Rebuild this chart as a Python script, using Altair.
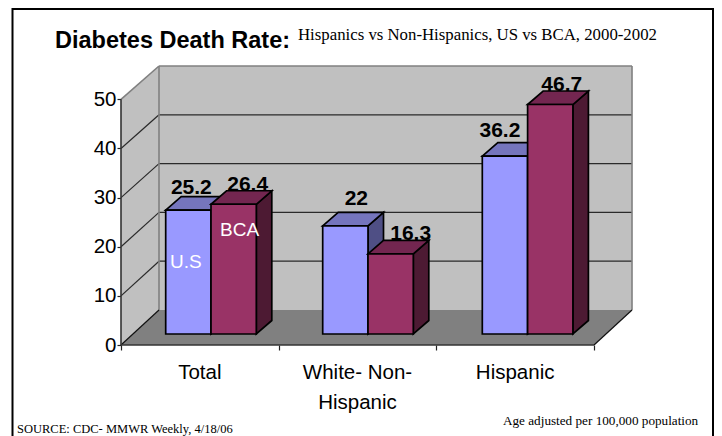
import altair as alt
import pandas as pd

categories = ["Total", "White- Non-\nHispanic", "Hispanic"]
us_values = [25.2, 22, 36.2]
bca_values = [26.4, 16.3, 46.7]
y_ticks = [0, 10, 20, 30, 40, 50]
x_ticks = [0, 1, 2, 3]

# ---- layout (image pixels -> data units) ----
W, H = 706, 428
OX, OY = 8, 8
X0, CAT = 121.0, 157.67
Y0, UNIT = 345.0, 4.914


def dx(px):
    return px / CAT


def dy(px):
    return px / UNIT


XS = alt.Scale(domain=[(OX - X0) / CAT, (OX + W - X0) / CAT], range=[0, W], nice=False, zero=False)
YS = alt.Scale(domain=[(Y0 - OY - H) / UNIT, (Y0 - OY) / UNIT], range=[H, 0], nice=False, zero=False)
XQ = alt.X("x:Q", scale=XS, title=None)
YQ = alt.Y("y:Q", scale=YS, title=None)

WALL_X, WALL_Y = dx(38), dy(35)
INSET_Y = dy(11)
BAR_W = dx(45.3)
DEPTH_X, DEPTH_Y = dx(15.5), dy(13.5)
TOP = 50


def back(v):
    """Height on the back wall of a value: the wall is drawn slightly foreshortened."""
    return WALL_Y + v * 0.993


def bar_left(i, series):
    first = [dx(44.7), dx(201.7), dx(361.3)][i]
    return first + series * BAR_W


def para_v(rows, color, stroke=None, sw=1.7):
    """Parallelogram with vertical sides: rows of (group, x, y, y2)."""
    df = pd.DataFrame(rows, columns=["g", "x", "y", "y2"])
    kw = {"stroke": stroke, "strokeWidth": sw} if stroke else {}
    return alt.Chart(df).mark_area(fill=color, fillOpacity=1, **kw).encode(
        x=XQ, y=YQ, y2="y2:Q", detail="g:N")


def para_h(rows, color, stroke=None, sw=1.7):
    """Parallelogram with horizontal sides: rows of (group, y, x, x2)."""
    df = pd.DataFrame(rows, columns=["g", "y", "x", "x2"])
    kw = {"stroke": stroke, "strokeWidth": sw} if stroke else {}
    return alt.Chart(df).mark_area(orient="horizontal", fill=color, fillOpacity=1, **kw).encode(
        y=YQ, x=XQ, x2="x2:Q", detail="g:N")


def rules(rows, color, sw=1.2):
    df = pd.DataFrame(rows, columns=["x", "x2", "y", "y2"])
    return alt.Chart(df).mark_rule(color=color, strokeWidth=sw).encode(x=XQ, x2="x2:Q", y=YQ, y2="y2:Q")


# ---- real axes ----
axes = alt.Chart(pd.DataFrame({"x": x_ticks, "y": [0] * 4})).mark_point(opacity=0).encode(
    x=alt.X("x:Q", scale=XS, title=None, axis=alt.Axis(
        values=x_ticks, labels=False, domain=False, grid=False, tickColor="#222", tickSize=5,
        tickWidth=1.2, offset=-(OY + H - Y0))),
    y=alt.Y("y:Q", scale=YS, title=None, axis=alt.Axis(
        values=y_ticks, domain=False, grid=False, tickColor="#222", tickSize=4, tickWidth=1.2,
        labelFont="Liberation Sans", labelFontSize=20.5, labelColor="black", labelPadding=1,
        offset=-(X0 - OX))),
)

# ---- walls and floor ----
walls = [
    para_v([("w", 0, TOP, 0), ("w", WALL_X, back(TOP), back(0))], "#c0c0c0"),
    para_v([("b", WALL_X, back(TOP), back(0)), ("b", 3 + WALL_X, back(TOP), back(0))], "#c0c0c0"),
    para_h([("f", 0, 0, 3), ("f", back(0), WALL_X, 3 + WALL_X)], "#808080"),
]
grid_levels = y_ticks[1:-1]
lines = [
    rules([(WALL_X, 3 + WALL_X, back(v), back(v)) for v in grid_levels], "#2a2a2a"),
    rules([(0, WALL_X, v, back(v)) for v in grid_levels], "#2a2a2a"),
    rules([(WALL_X, 3 + WALL_X, back(TOP), back(TOP)),
           (WALL_X, WALL_X, back(0), back(TOP)),
           (3 + WALL_X, 3 + WALL_X, back(0), back(TOP)),
           (0, WALL_X, TOP, back(TOP))], "#808080", 1.6),
    rules([(0, WALL_X, 0, back(0)), (3, 3 + WALL_X, 0, back(0))], "#111", 1.2),
    rules([(0, 3, 0, 0), (0, 0, 0, TOP)], "#333", 1.6),
]


# ---- 3D bars ----
def bars(values, series, front, side, top):
    fr, si, to = [], [], []
    for i, v in enumerate(values):
        l = bar_left(i, series)
        r = l + BAR_W
        y0 = INSET_Y
        y1 = INSET_Y + v
        fr.append((i, l, y1, y0))
        fr.append((i, r, y1, y0))
        si.append((i, r, y1, y0))
        si.append((i, r + DEPTH_X, y1 + DEPTH_Y, y0 + DEPTH_Y))
        to.append((i, y1, l, r))
        to.append((i, y1 + DEPTH_Y, l + DEPTH_X, r + DEPTH_X))
    return [
        para_v(si, side, "black"),
        para_h(to, top, "black"),
        para_v(fr, front, "black"),
    ]


bar_layers = bars(us_values, 0, "#9999ff", "#4f4f85", "#7575bd") + \
    bars(bca_values, 1, "#993366", "#4d1a33", "#732650")


# ---- value labels ----
label_shift_x = [3, 14, 11, 20, -5, 11.5]
label_rise = [16, 13.5, 20.5, 13.5, 19.5, 13.5]
lab_rows = []
k = 0
for i in range(3):
    for s, vals in enumerate([us_values, bca_values]):
        v = vals[i]
        lab_rows.append({
            "x": bar_left(i, s) + BAR_W / 2 + dx(label_shift_x[k]),
            "y": INSET_Y + v + dy(label_rise[k]),
            "t": f"{v:g}",
        })
        k += 1
value_labels = alt.Chart(pd.DataFrame(lab_rows)).mark_text(
    font="Liberation Sans", fontWeight="bold", fontSize=21, color="black", baseline="alphabetic", align="center"
).encode(x=XQ, y=YQ, text="t:N")

cat_labels = alt.Chart(pd.DataFrame({
    "x": [i + 0.5 for i in range(3)],
    "t": categories,
})).mark_text(font="Liberation Sans", fontSize=20.5, color="black", baseline="top", align="center",
              lineBreak="\n", lineHeight=30).encode(
    x=XQ, y=alt.value(Y0 + 18 - OY), text="t:N")


def text(t, x, y, size, font="Liberation Sans", weight="normal", color="black", align="left"):
    return alt.Chart(pd.DataFrame({"t": [t]})).mark_text(
        font=font, fontSize=size, fontWeight=weight, color=color, align=align, baseline="alphabetic"
    ).encode(x=alt.value(x - OX), y=alt.value(y - OY), text="t:N")


notes = [
    text("Diabetes Death Rate:", 55, 48, 23.5, weight="bold"),
    text("Hispanics vs Non-Hispanics, US vs BCA, 2000-2002", 298, 40, 16.8, font="Liberation Serif"),
    text("U.S", 170, 268, 19, color="white"),
    text("BCA", 220, 236, 19, color="white"),
    text("SOURCE: CDC- MMWR Weekly, 4/18/06", 17, 433, 12.5, font="Liberation Serif"),
    text("Age adjusted per 100,000 population", 503, 425, 13.2, font="Liberation Serif"),
]

# ---- outer frame ----
LEFT, RIGHT = 12.5, 713
frame = alt.Chart(pd.DataFrame({"a": [1]})).mark_rule(color="black", strokeWidth=2).encode(
    x=alt.value(LEFT - OX), x2=alt.value(RIGHT - OX), y=alt.value(1))
frame_l = alt.Chart(pd.DataFrame({"a": [1]})).mark_rule(color="black", strokeWidth=2).encode(
    x=alt.value(LEFT - OX), y=alt.value(0), y2=alt.value(H))
frame_r = alt.Chart(pd.DataFrame({"a": [1]})).mark_rule(color="black", strokeWidth=2).encode(
    x=alt.value(RIGHT - OX), y=alt.value(0), y2=alt.value(H))

chart = alt.layer(
    axes, *walls, *lines, *bar_layers, value_labels, cat_labels, *notes, frame, frame_l, frame_r
).resolve_axis(x="shared", y="shared").properties(
    width=W, height=H, padding=0, autosize=alt.AutoSizeParams(type="none"), background="white"
).configure_view(stroke=None)

chart.save("out.html", embed_options={"renderer": "svg", "actions": False})
